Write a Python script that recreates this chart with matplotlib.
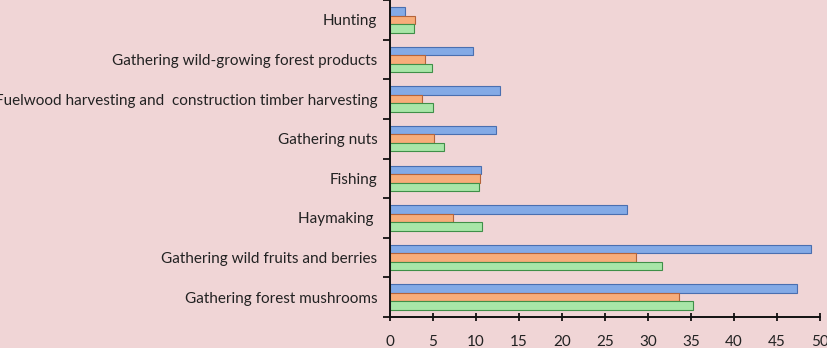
import matplotlib.pyplot as plt
import numpy as np

# Categories from bottom to top
categories = ['Gathering forest mushrooms', 'Gathering wild fruits and berries', 'Haymaking ',
              'Fishing', 'Gathering nuts', 'Fuelwood harvesting and  construction timber harvesting',
              'Gathering wild-growing forest products', 'Hunting']
blue_vals = [47.3, 49.0, 27.6, 10.6, 12.3, 12.8, 9.7, 1.75]
orange_vals = [33.6, 28.6, 7.3, 10.5, 5.1, 3.7, 4.1, 2.9]
green_vals = [35.3, 31.6, 10.7, 10.3, 6.3, 5.0, 4.9, 2.8]

bg = '#f0d5d6'
plt.rcParams['font.family'] = ['Lato', 'DejaVu Sans']

fig = plt.figure(figsize=(8.28, 3.48), dpi=100, facecolor=bg)
ax = fig.add_axes([0.471, 0.089, 0.519, 0.911], facecolor=bg)

y = np.arange(len(categories))
h = 0.215
ax.barh(y + h, blue_vals, height=h, color='#83aae6', edgecolor='#4a6fb0', linewidth=0.8)
ax.barh(y, orange_vals, height=h, color='#f7ad7a', edgecolor='#b5643a', linewidth=0.8)
ax.barh(y - h, green_vals, height=h, color='#a8e6a8', edgecolor='#3f8f48', linewidth=0.8)

ax.set_xlim(0, 50)
ax.set_ylim(-0.5, len(categories) - 0.5)
ax.set_xticks(np.arange(0, 51, 5))
ax.set_yticks(y)
ax.set_yticklabels(categories, fontsize=11, color='#222222')
ax.set_yticks(np.arange(-0.5, len(categories), 1), minor=True)
ax.tick_params(axis='y', which='major', length=0, pad=9)
ax.tick_params(axis='y', which='minor', length=5, width=1.2, direction='out')
ax.tick_params(axis='x', length=6, width=1.2, direction='inout', pad=10, labelsize=11, labelcolor='#222222')

for s in ['top', 'right']:
    ax.spines[s].set_visible(False)
for s in ['left', 'bottom']:
    ax.spines[s].set_linewidth(1.4)
    ax.spines[s].set_color('#111111')

fig.savefig('out.png', dpi=100, facecolor=bg)
